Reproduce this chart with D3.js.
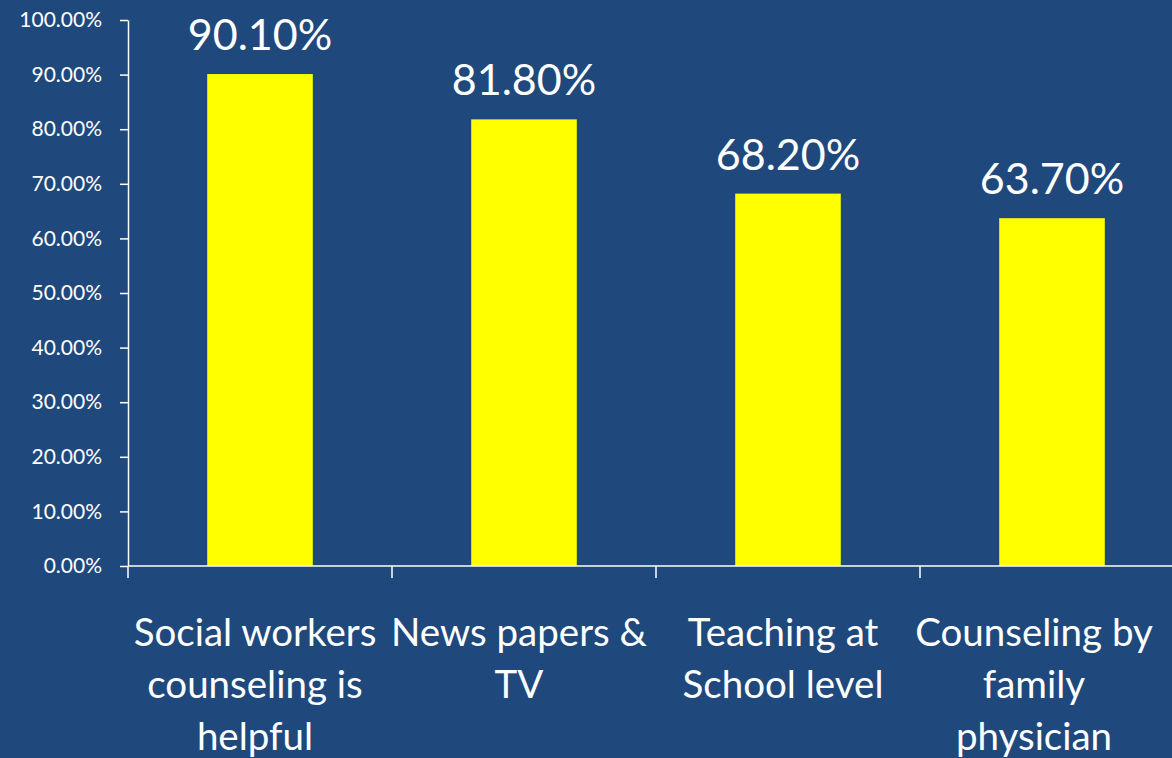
<!DOCTYPE html>
<html>
<head>
<meta charset="utf-8">
<title>Bar chart</title>
<script src="https://d3js.org/d3.v7.min.js"></script>
<style>
  html, body { margin: 0; padding: 0; background: #1f497d; }
  svg text { fill: #ffffff; font-family: Lato, "Open Sans", sans-serif; }
</style>
</head>
<body>
<svg id="chart" width="1172" height="758"></svg>
<script>
// data
var categories = ["Social workers counseling is helpful", "News papers & TV",
                  "Teaching at School level", "Counseling by family physician"];
var labelLines = [["Social workers", "counseling is", "helpful"],
                  ["News papers &", "TV"],
                  ["Teaching at", "School level"],
                  ["Counseling by", "family", "physician"]];
var values = [0.901, 0.818, 0.682, 0.637];
var yTicks = [0, 0.1, 0.2, 0.3, 0.4, 0.5, 0.6, 0.7, 0.8, 0.9, 1.0];

var svg = d3.select("#chart");
svg.append("rect").attr("width", 1172).attr("height", 758).attr("fill", "#1f497d");

var plotLeft = 128, plotTop = 20, plotBottom = 566, step = 264;

var x = d3.scaleBand().domain(categories)
    .range([plotLeft, plotLeft + step * categories.length])
    .paddingInner(0.6).paddingOuter(0.3);
var y = d3.scaleLinear().domain([0, 1]).range([plotBottom, plotTop]);

// y axis
var yAxis = svg.append("g")
    .attr("transform", "translate(" + plotLeft + ",0)")
    .call(d3.axisLeft(y).tickValues(yTicks).tickSize(8).tickSizeOuter(0)
          .tickFormat(d3.format(".2%")));
yAxis.selectAll("line, path").attr("stroke", "#ffffff").attr("stroke-width", 1.5);
yAxis.selectAll("text").attr("font-size", 21).attr("x", -26).attr("fill", "#fff")
    .style("font-family", "Lato, sans-serif");

// bars
svg.append("g").selectAll("rect")
  .data(values)
  .enter()
  .append("rect")
    .attr("x", function (d, i) { return x(categories[i]); })
    .attr("y", function (d) { return y(d); })
    .attr("width", x.bandwidth())
    .attr("height", function (d) { return y(0) - y(d); })
    .attr("fill", "#ffff00");

// value labels
svg.append("g").selectAll("text")
  .data(values)
  .enter()
  .append("text")
    .attr("x", function (d, i) { return x(categories[i]) + x.bandwidth() / 2; })
    .attr("y", function (d) { return y(d) - 24; })
    .attr("text-anchor", "middle")
    .attr("font-size", 43)
    .text(function (d) { return d3.format(".2%")(d); });

// x axis line and category separators
var xg = svg.append("g");
xg.append("line")
    .attr("x1", plotLeft).attr("x2", 1172)
    .attr("y1", y(0)).attr("y2", y(0))
    .attr("stroke", "#ffffff").attr("stroke-width", 1.5);
xg.selectAll(".sep")
  .data(d3.range(categories.length + 1))
  .enter()
  .append("line")
    .attr("x1", function (i) { return plotLeft + i * step; })
    .attr("x2", function (i) { return plotLeft + i * step; })
    .attr("y1", y(0)).attr("y2", y(0) + 12)
    .attr("stroke", "#ffffff").attr("stroke-width", 1.5);

// category labels, wrapped
var cat = svg.append("g").selectAll("text")
  .data(labelLines)
  .enter()
  .append("text")
    .attr("text-anchor", "middle")
    .attr("font-size", 38.5);
cat.each(function (lines, i) {
  var cx = x(categories[i]) + x.bandwidth() / 2 - 5;
  var t = d3.select(this);
  lines.forEach(function (l, k) {
    t.append("tspan").attr("x", cx).attr("y", 646 + k * 52).text(l);
  });
  // keep the label inside the picture
  var b = this.getBBox();
  var over = b.x + b.width - 1153;
  if (over > 0) t.selectAll("tspan").attr("x", cx - over);
});
</script>
</body>
</html>
